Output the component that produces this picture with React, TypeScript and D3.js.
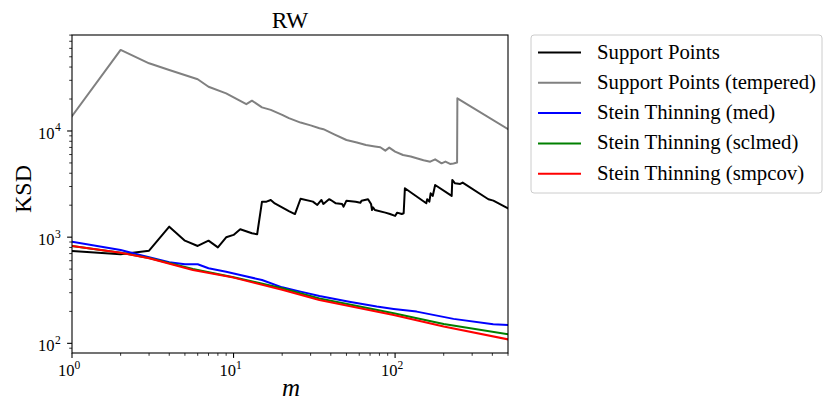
import React from "react";
import * as d3 from "d3";

// ---- data ----
const spM = [1, 2, 3, 4, 5, 6, 7, 8, 9, 10, 11, 13, 14, 15, 16, 17, 18, 22, 24, 26, 31, 33, 35, 36, 39, 40, 43, 47, 48, 50, 57, 61, 62, 68, 71, 72, 73, 75, 87, 93, 100, 103, 110, 113, 115, 156, 158, 163, 166, 171, 177, 224, 226, 235, 253, 262, 378, 406, 500];
const spV = [741, 690, 746, 1256, 927, 826, 927, 802, 997, 1050, 1187, 1088, 1065, 2160, 2160, 2240, 2080, 1760, 1650, 2300, 2160, 2010, 2240, 2055, 2275, 2239, 2084, 2054, 1937, 2207, 2160, 2113, 2207, 2275, 2054, 1803, 1910, 1803, 1702, 1652, 1585, 1702, 1652, 1680, 2887, 2084, 2273, 2160, 2589, 2444, 3101, 2444, 3456, 3218, 3170, 3263, 2275, 2207, 1870];

const sptM = [1, 2, 3, 4, 6, 7, 9, 12, 13, 15, 17, 20, 22, 26, 30, 34, 36, 42, 50, 58, 66, 75, 81, 87, 92, 100, 112, 125, 136, 150, 165, 177, 194, 205, 219, 230, 242, 243, 500];
const sptV = [13800, 58000, 43400, 37500, 30700, 26100, 22600, 17900, 19300, 16700, 15800, 14200, 13200, 12000, 11300, 10600, 10400, 9300, 8230, 7800, 7380, 7150, 7030, 6530, 6970, 6400, 5940, 5750, 5530, 5300, 5140, 5410, 4960, 5150, 4890, 4950, 5040, 20300, 10400];

const medM = [1, 2, 3, 4, 5, 6, 7, 9, 11, 15, 20, 26, 34, 52, 77, 98, 136, 230, 405, 500];
const medV = [908, 757, 646, 580, 556, 556, 510, 473, 440, 395, 337, 307, 279, 247, 222, 211, 199, 170, 151, 149];

const sclM = [1, 2, 3, 5.6, 10, 20, 34, 98, 200, 500];
const sclV = [827, 714, 636, 502, 420, 330, 264, 192, 152, 122];

const smpM = [1, 2, 3, 5.6, 10, 20, 34, 98, 200, 500];
const smpV = [827, 714, 632, 491, 416, 320, 256, 185, 144, 109];

const seriesNames = [
  "Support Points",
  "Support Points (tempered)",
  "Stein Thinning (med)",
  "Stein Thinning (sclmed)",
  "Stein Thinning (smpcov)",
];
const seriesColors = ["#000000", "#808080", "#0000ff", "#008000", "#ff0000"];
const seriesM = [spM, sptM, medM, sclM, smpM];
const seriesV = [spV, sptV, medV, sclV, smpV];

const xMajorExp = [0, 1, 2];
const yMajorExp = [2, 3, 4];
const titleText = "RW";
const xLabelText = "m";
const yLabelText = "KSD";

const FAMILY = "'Liberation Serif', 'Times New Roman', serif";

export default function App() {
  const W = 828, H = 404;
  const L = 72, R = 508, T = 35, B = 353;

  const sizes = { legend: 20.75, title: 23.5, ylab: 24, xlab: 25, tick: 16.5 };

  const x = d3.scaleLog().domain([1, 500]).range([L, R]);
  const y = d3.scaleLog().domain([Math.pow(10, 1.909), Math.pow(10, 4.904)]).range([B, T]);

  const line = d3
    .line<[number, number]>()
    .x((d) => x(d[0]))
    .y((d) => y(d[1]));

  const xMinor: number[] = [];
  for (let e = 0; e <= 2; e++) for (let k = 2; k <= 9; k++) {
    const v = k * Math.pow(10, e);
    if (v <= 500) xMinor.push(v);
  }
  const yMinor: number[] = [];
  for (let e = 1; e <= 4; e++) for (let k = 2; k <= 9; k++) {
    const v = k * Math.pow(10, e);
    const [lo, hi] = y.domain();
    if (v >= lo && v <= hi) yMinor.push(v);
  }

  const majorLen = 4.9, minorLen = 2.8;
  const tickFs = sizes.tick, supFs = sizes.tick * 0.7;

  const legX = 531, legY = 35, legW = 291, legH = 158;
  const rowY0 = 52.5, rowDy = 30.3;

  return (
    <svg width={W} height={H} style={{ position: "absolute", left: 0, top: 0, background: "#fff", fontFamily: FAMILY }}>
      <rect x={0} y={0} width={W} height={H} fill="#fff" />
      <defs>
        <clipPath id="plotclip">
          <rect x={L} y={T} width={R - L} height={B - T} />
        </clipPath>
      </defs>

      <g clipPath="url(#plotclip)">
        {seriesM.map((ms, i) => (
          <path
            key={i}
            d={line(ms.map((mm, j) => [mm, seriesV[i][j]] as [number, number])) || ""}
            fill="none"
            stroke={seriesColors[i]}
            strokeWidth={2}
            strokeLinejoin="round"
            strokeLinecap="square"
          />
        ))}
      </g>

      <rect x={L} y={T} width={R - L} height={B - T} fill="none" stroke="#000" strokeWidth={1.1} />

      {xMajorExp.map((e) => {
        const xv = x(Math.pow(10, e));
        return (
          <g key={"xm" + e}>
            <line x1={xv} x2={xv} y1={B} y2={B + majorLen} stroke="#000" strokeWidth={1.1} />
            <text x={xv - supFs * 0.25} y={376} textAnchor="middle" style={{ fontSize: tickFs }}>
              10
              <tspan dy={-7.5} style={{ fontSize: supFs }}>{e}</tspan>
            </text>
          </g>
        );
      })}
      {xMinor.map((v) => (
        <line key={"xn" + v} x1={x(v)} x2={x(v)} y1={B} y2={B + minorLen} stroke="#000" strokeWidth={0.8} />
      ))}

      {yMajorExp.map((e) => {
        const yv = y(Math.pow(10, e));
        return (
          <g key={"ym" + e}>
            <line x1={L - majorLen} x2={L} y1={yv} y2={yv} stroke="#000" strokeWidth={1.1} />
            <text x={L - 17.5} y={yv + 8} textAnchor="end" style={{ fontSize: tickFs }}>
              10
            </text>
            <text x={L - 17} y={yv + 0.5} textAnchor="start" style={{ fontSize: supFs }}>
              {e}
            </text>
          </g>
        );
      })}
      {yMinor.map((v) => (
        <line key={"yn" + v} x1={L - minorLen} x2={L} y1={y(v)} y2={y(v)} stroke="#000" strokeWidth={0.8} />
      ))}

      <text x={290} y={28} textAnchor="middle" style={{ fontSize: sizes.title }}>{titleText}</text>
      <text x={291} y={396} textAnchor="middle" style={{ fontSize: sizes.xlab, fontStyle: "italic" }}>{xLabelText}</text>
      <text transform={`translate(30.5, 189) rotate(-90)`} textAnchor="middle" style={{ fontSize: sizes.ylab }}>
        {yLabelText}
      </text>

      <rect x={legX} y={legY} width={legW} height={legH} rx={3} ry={3} fill="#fff" fillOpacity={0.8} stroke="#cccccc" strokeWidth={1} />
      {seriesNames.map((name, i) => {
        const ry = rowY0 + i * rowDy;
        return (
          <g key={"lg" + i}>
            <line x1={538} x2={581} y1={ry} y2={ry} stroke={seriesColors[i]} strokeWidth={2} />
            <text x={597} y={ry + 6} style={{ fontSize: sizes.legend }}>{name}</text>
          </g>
        );
      })}
    </svg>
  );
}
